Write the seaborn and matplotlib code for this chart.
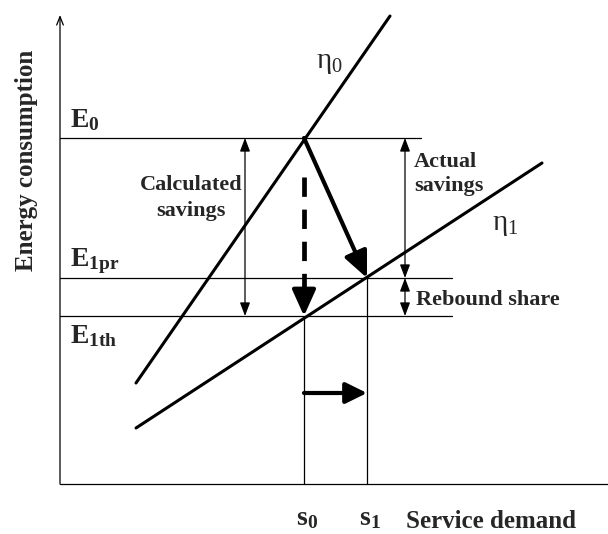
import matplotlib
matplotlib.use("Agg")
import matplotlib.pyplot as plt
import seaborn as sns
import pandas as pd

sns.set_theme(style="white")
plt.rcParams['font.family'] = ['Liberation Serif', 'DejaVu Serif']
plt.rcParams['mathtext.fontset'] = 'custom'
plt.rcParams['mathtext.rm'] = 'Liberation Serif'
plt.rcParams['mathtext.bf'] = 'Liberation Serif:bold'
plt.rcParams['mathtext.it'] = 'Liberation Serif:italic'

# --- datos del esquema (unidades arbitrarias) ---
S_LEVELS = {"s0": 2.44, "s1": 3.07}
E_LEVELS = {"E0": 3.46, "E1pr": 2.06, "E1th": 1.68}
ETA0_S = [0.76, 3.30]
ETA0_E = [1.01, 4.68]
ETA1_S = [0.76, 4.82]
ETA1_E = [0.56, 3.21]
HLINE_END = {"E0": 3.61, "E1pr": 3.92, "E1th": 3.92}
CALC_X = 1.85
ACTUAL_X = 3.45
SHIFT_Y = 0.91
Y_TOP = 4.69

s0, s1 = S_LEVELS["s0"], S_LEVELS["s1"]
E0, E1pr, E1th = E_LEVELS["E0"], E_LEVELS["E1pr"], E_LEVELS["E1th"]

df_eta = pd.DataFrame({
    "s": ETA0_S + ETA1_S,
    "E": ETA0_E + ETA1_E,
    "eta": ["eta0", "eta0", "eta1", "eta1"],
})

fig = plt.figure(figsize=(6.08, 5.34), dpi=100)
ax = fig.add_axes([0, 0, 1, 1])

thin = dict(color="black", lw=0.9)

# ejes
ax.annotate("", xy=(0, Y_TOP), xytext=(0, 0),
            arrowprops=dict(arrowstyle="->,head_length=0.5,head_width=0.2", lw=0.9,
                            color="black", shrinkA=0, shrinkB=0))
ax.plot([0, 5.48], [0, 0], **thin)

# niveles de energia
for k, e in E_LEVELS.items():
    ax.plot([0, HLINE_END[k]], [e, e], **thin)

# verticales s0 / s1
ax.plot([s0, s0], [0, E1th], **thin)
ax.plot([s1, s1], [0, E1pr], **thin)

# rectas de eficiencia
sns.lineplot(data=df_eta, x="s", y="E", units="eta", estimator=None,
             color="black", lw=2.2, legend=False, ax=ax)
ax.set_xlim(-0.60, 5.48)
ax.set_ylim(-0.50, 4.84)
ax.set_axis_off()

# flechas dobles finas
dbl = dict(arrowstyle="<|-|>,head_length=0.45,head_width=0.17", lw=0.9,
           color="black", shrinkA=0, shrinkB=0, mutation_scale=18)
ax.annotate("", xy=(CALC_X, E0), xytext=(CALC_X, E1th), arrowprops=dbl)
ax.annotate("", xy=(ACTUAL_X, E0), xytext=(ACTUAL_X, E1pr), arrowprops=dbl)
ax.annotate("", xy=(ACTUAL_X, E1pr), xytext=(ACTUAL_X, E1th), arrowprops=dbl)

# flechas gruesas
thick = dict(arrowstyle="-|>,head_length=0.8,head_width=0.36", lw=3.0,
             color="black", shrinkA=0, shrinkB=0, mutation_scale=20)
ax.annotate("", xy=(s1, E1pr), xytext=(s0, E0), arrowprops=thick)
ax.plot([s0, s0], [E0 - 0.39, E1th + 0.17], color="black", lw=3.4,
        linestyle=(0, (4.1, 2.7)), solid_capstyle="butt")
ax.annotate("", xy=(s0, E1th), xytext=(s0, E1th + 0.22), arrowprops=thick)
shift = dict(thick, arrowstyle="-|>,head_length=0.65,head_width=0.32")
ax.annotate("", xy=(s1, SHIFT_Y), xytext=(s0, SHIFT_Y), arrowprops=shift)

# textos
ax.text(0.10, E0 + 0.11, r"$\mathbf{E_0}$", fontsize=20, va="baseline")
ax.text(0.10, E1pr + 0.12, r"$\mathbf{E_{1pr}}$", fontsize=20, va="baseline")
ax.text(0.10, E1th - 0.27, r"$\mathbf{E_{1th}}$", fontsize=20, va="baseline")

ax.text(2.69, 4.21, r"$\mathrm{η_0}$", fontsize=21, ha="center", va="center")
ax.text(4.45, 2.59, r"$\mathrm{η_1}$", fontsize=21, ha="center", va="center")

ax.text(1.31, 2.86, "Calculated\nsavings", fontsize=16, fontweight="bold",
        ha="center", va="center", linespacing=1.35)
ax.text(3.54, 3.10, "Actual\nsavings", fontsize=16, fontweight="bold",
        ha="left", va="center", linespacing=1.3)
ax.text(3.56, 1.79, "Rebound share", fontsize=16, fontweight="bold",
        ha="left", va="baseline")

ax.text(s0 - 0.08, -0.41, r"$\mathbf{s_0}$", fontsize=20, va="baseline")
ax.text(s1 - 0.08, -0.41, r"$\mathbf{s_1}$", fontsize=20, va="baseline")
ax.text(3.46, -0.44, "Service demand", fontsize=18, fontweight="bold", va="baseline")
ax.text(-0.33, 3.24, "Energy consumption", fontsize=18, fontweight="bold",
        rotation=90, ha="center", va="center")

fig.savefig("out.png", dpi=100, facecolor="white")
